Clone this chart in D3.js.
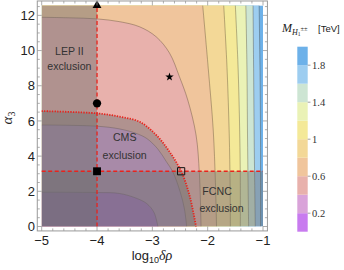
<!DOCTYPE html>
<html>
<head>
<meta charset="utf-8">
<script src="https://cdn.jsdelivr.net/npm/d3@7"></script>
<style>
body { margin: 0; background: #fff; }
</style>
</head>
<body>
<div id="chart"></div>
<script>
// band edges of M_H (TeV) and their colours, bottom to top
var bandEdges = [0, 0.2, 0.4, 0.6, 0.8, 1.0, 1.2, 1.4, 1.6, 1.8, 2.0];
var bandColors = ["#c87bef", "#d9a3d9", "#e8b1ac", "#f0c59c", "#f3d897",
	"#f4e998", "#eaf2b6", "#cde5d3", "#9dcdf0", "#6db1e9"];

var xTicks = [-5, -4, -3, -2, -1];
var yTicks = [0, 2, 4, 6, 8, 10, 12];
var barTicks = [0.2, 0.6, 1, 1.4, 1.8];

// contour lines, [log10 δρ, α3]
var c02 = [[-5, 1.95], [-4, 1.93], [-3.6, 1.88], [-3.3, 1.62], [-3.1, 1.3], [-2.97, 0.8], [-2.9, 0]];
var c04 = [[-5, 5.77], [-4, 5.7], [-3.6, 5.55], [-3.3, 5.3], [-3.1, 5.0], [-2.9, 4.4], [-2.75, 3.7],
	[-2.63, 3.1], [-2.5, 2.0], [-2.42, 1.0], [-2.38, 0]];
var c06 = [[-5, 11.89], [-4.5, 11.86], [-4, 11.8], [-3.59, 11.64], [-3.23, 11.35], [-2.93, 10.78],
	[-2.69, 9.86], [-2.51, 8.51], [-2.36, 7.19], [-2.21, 5.2], [-2.15, 3], [-2.12, 0]];
var c08 = [[-2.09, 12.57], [-1.99, 9.0], [-1.9, 5.5], [-1.86, 2.5], [-1.84, 0]];
var c10 = [[-1.71, 12.57], [-1.65, 9.0], [-1.61, 5.2], [-1.595, 2.5], [-1.59, 0]];
var c12 = [[-1.50, 12.57], [-1.45, 9.0], [-1.42, 5.2], [-1.41, 2.5], [-1.41, 0]];
var c14 = [[-1.31, 12.57], [-1.29, 9.0], [-1.28, 5.2], [-1.27, 2.5], [-1.26, 0]];
var c16 = [[-1.18, 12.57], [-1.17, 9.0], [-1.16, 5.2], [-1.15, 2.5], [-1.14, 0]];
var c18 = [[-1.07, 12.57], [-1.055, 9.0], [-1.045, 5.2], [-1.045, 2.5], [-1.045, 0]];
var contours = [c02, c04, c06, c08, c10, c12, c14, c16, c18];

// exclusion limits
var cmsEdge = [[-5, 6.56], [-4, 6.43], [-3.59, 6.24], [-3.23, 5.95], [-2.93, 5.2], [-2.69, 4.25],
	[-2.48, 3.14], [-2.33, 1.79], [-2.21, 0]];
var lepEdge = -4;
var fcncEdge = 3.14;

// benchmark points
var marks = [
	{ x: -4, y: 4 * Math.PI, shape: "triangle" },
	{ x: -4, y: 7.0, shape: "circle" },
	{ x: -4, y: 3.14, shape: "square" },
	{ x: -2.48, y: 3.14, shape: "open" },
	{ x: -2.69, y: 8.5, shape: "star" }
];

var sans = "Liberation Sans, Arial, sans-serif";
var serif = "Liberation Serif, Times New Roman, serif";

var svg = d3.select("#chart").append("svg")
	.attr("width", 344)
	.attr("height", 270);

var x = d3.scaleLinear().domain([-5, -1]).range([41.7, 263]);
var y = d3.scaleLinear().domain([0, 4 * Math.PI]).range([226.5, 5.4]);
var yTop = 4 * Math.PI;

svg.append("defs").append("clipPath").attr("id", "plot")
	.append("rect")
	.attr("x", x(-5))
	.attr("y", y(yTop))
	.attr("width", x(-1) - x(-5))
	.attr("height", y(0) - y(yTop));

var line = d3.line()
	.x(function (d) { return x(d[0]); })
	.y(function (d) { return y(d[1]); })
	.curve(d3.curveCatmullRom.alpha(0.5));

function closed(pts) {
	return line(pts) + "L" + x(-5) + "," + y(0) + "L" + x(-5) + "," + y(pts[0][1]) + "Z";
}

var g = svg.append("g").attr("clip-path", "url(#plot)");

// top band, then each contour fills the region left/below it
g.append("rect")
	.attr("x", x(-5)).attr("y", y(yTop))
	.attr("width", x(-1) - x(-5)).attr("height", y(0) - y(yTop))
	.attr("fill", bandColors[bandColors.length - 1]);

for (var i = contours.length - 1; i >= 0; i--) {
	g.append("path")
		.attr("d", closed(contours[i]))
		.attr("fill", bandColors[i]);
}

for (var i = 0; i < contours.length; i++) {
	g.append("path")
		.attr("d", line(contours[i]))
		.attr("fill", "none")
		.attr("stroke", "rgba(70,55,40,0.45)")
		.attr("stroke-width", 0.8);
}

// exclusion overlays
var shade = { fill: "#6c6c6c", op: 0.45 };
g.append("rect")
	.attr("x", x(-5)).attr("y", y(yTop))
	.attr("width", x(lepEdge) - x(-5)).attr("height", y(0) - y(yTop))
	.attr("fill", shade.fill).attr("fill-opacity", shade.op);
g.append("path")
	.attr("d", closed(cmsEdge))
	.attr("fill", shade.fill).attr("fill-opacity", shade.op);
g.append("rect")
	.attr("x", x(-5)).attr("y", y(fcncEdge))
	.attr("width", x(-1) - x(-5)).attr("height", y(0) - y(fcncEdge))
	.attr("fill", shade.fill).attr("fill-opacity", shade.op);

// red limit lines
var red = "#e8231c";
svg.append("path")
	.attr("d", line(cmsEdge))
	.attr("fill", "none")
	.attr("stroke", red)
	.attr("stroke-width", 1.8)
	.attr("stroke-dasharray", "1.3,1.3");
svg.append("line")
	.attr("x1", x(lepEdge)).attr("x2", x(lepEdge))
	.attr("y1", y(0)).attr("y2", y(yTop))
	.attr("stroke", red).attr("stroke-width", 1.3)
	.attr("stroke-dasharray", "4,2.5");
svg.append("line")
	.attr("x1", x(-5)).attr("x2", x(-1))
	.attr("y1", y(fcncEdge)).attr("y2", y(fcncEdge))
	.attr("stroke", red).attr("stroke-width", 1.3)
	.attr("stroke-dasharray", "4,2.5");

// markers
var symbols = {
	triangle: d3.symbol().type(d3.symbolTriangle).size(34),
	circle: d3.symbol().type(d3.symbolCircle).size(54),
	square: d3.symbol().type(d3.symbolSquare).size(62),
	open: d3.symbol().type(d3.symbolSquare).size(52),
	star: d3.symbol().type(d3.symbolStar).size(22)
};
marks.forEach(function (m) {
	svg.append("path")
		.attr("d", symbols[m.shape]())
		.attr("transform", "translate(" + x(m.x) + "," + y(m.y) + ")")
		.attr("fill", m.shape == "open" ? "none" : "#000")
		.attr("stroke", m.shape == "open" ? "#111" : "none")
		.attr("stroke-width", 1);
});

// region labels
var notes = [
	{ t: "LEP II", x: -4.5, y: 9.74 },
	{ t: "exclusion", x: -4.5, y: 8.89 },
	{ t: "CMS", x: -3.5, y: 4.86 },
	{ t: "exclusion", x: -3.5, y: 3.84 },
	{ t: "FCNC", x: -1.83, y: 1.79 },
	{ t: "exclusion", x: -1.75, y: 0.8 }
];
notes.forEach(function (n) {
	svg.append("text")
		.attr("x", x(n.x)).attr("y", y(n.y))
		.attr("text-anchor", "middle")
		.attr("font-family", sans)
		.attr("font-size", 10.6)
		.attr("fill", "#333")
		.text(n.t);
});

// frame and ticks
var fx0 = x(-5.08), fx1 = x(-0.92), fy0 = y(yTop + 0.2513), fy1 = y(-0.2513);
svg.append("rect")
	.attr("x", fx0).attr("y", fy0)
	.attr("width", fx1 - fx0).attr("height", fy1 - fy0)
	.attr("fill", "none").attr("stroke", "#999").attr("stroke-width", 1);

var tickColor = "#999";
d3.range(-5, -0.99, 0.2).forEach(function (v) {
	var major = Math.abs(v - Math.round(v)) < 1e-6;
	var len = major ? 4.5 : 2.5;
	svg.append("line").attr("x1", x(v)).attr("x2", x(v)).attr("y1", fy1).attr("y2", fy1 - len)
		.attr("stroke", tickColor).attr("stroke-width", 0.8);
	svg.append("line").attr("x1", x(v)).attr("x2", x(v)).attr("y1", fy0).attr("y2", fy0 + len)
		.attr("stroke", tickColor).attr("stroke-width", 0.8);
});
d3.range(0, 12.51, 0.5).forEach(function (v) {
	var major = Math.abs(v / 2 - Math.round(v / 2)) < 1e-6;
	var len = major ? 4.5 : 2.5;
	svg.append("line").attr("x1", fx0).attr("x2", fx0 + len).attr("y1", y(v)).attr("y2", y(v))
		.attr("stroke", tickColor).attr("stroke-width", 0.8);
	svg.append("line").attr("x1", fx1).attr("x2", fx1 - len).attr("y1", y(v)).attr("y2", y(v))
		.attr("stroke", tickColor).attr("stroke-width", 0.8);
});

xTicks.forEach(function (v) {
	svg.append("text")
		.attr("x", x(v)).attr("y", 245)
		.attr("text-anchor", "middle")
		.attr("font-family", sans).attr("font-size", 13)
		.attr("fill", "#222")
		.text("\u2212" + Math.abs(v));
});
yTicks.forEach(function (v) {
	svg.append("text")
		.attr("x", 35).attr("y", y(v))
		.attr("dy", "0.36em")
		.attr("text-anchor", "end")
		.attr("font-family", sans).attr("font-size", 13)
		.attr("fill", "#222")
		.text(v);
});

// axis titles
var xl = svg.append("text")
	.attr("x", 152).attr("y", 260)
	.attr("text-anchor", "middle")
	.attr("font-family", sans).attr("font-size", 13)
	.attr("fill", "#222");
xl.append("tspan").text("log");
xl.append("tspan").attr("font-size", 9).attr("dy", 3).text("10");
xl.append("tspan").attr("dy", -3).attr("font-family", serif).attr("font-style", "italic").attr("font-size", 14).text("\u03b4\u03c1");

var yl = svg.append("text")
	.attr("transform", "translate(12,118) rotate(-90)")
	.attr("text-anchor", "middle")
	.attr("font-family", serif).attr("font-size", 15)
	.attr("fill", "#222");
yl.append("tspan").attr("font-style", "italic").text("\u03b1");
yl.append("tspan").attr("font-size", 10).attr("dy", 3).text("3");

// colour bar
var cb = d3.scaleLinear().domain([0, 2]).range([231.7, 46.7]);
for (var i = 0; i < bandColors.length; i++) {
	svg.append("rect")
		.attr("x", 297.3)
		.attr("y", cb(bandEdges[i + 1]))
		.attr("width", 10.4)
		.attr("height", cb(bandEdges[i]) - cb(bandEdges[i + 1]))
		.attr("fill", bandColors[i]);
}
barTicks.forEach(function (v) {
	svg.append("line")
		.attr("x1", 307.7).attr("x2", 310.5)
		.attr("y1", cb(v)).attr("y2", cb(v))
		.attr("stroke", "#777").attr("stroke-width", 0.7);
	svg.append("text")
		.attr("x", 312).attr("y", cb(v))
		.attr("dy", "0.35em")
		.attr("font-family", serif).attr("font-size", 10.5)
		.attr("fill", "#333")
		.text(v);
});

var title = svg.append("text")
	.attr("x", 282).attr("y", 32)
	.attr("font-family", serif).attr("font-size", 12)
	.attr("fill", "#222");
title.append("tspan").attr("font-style", "italic").text("M");
title.append("tspan").attr("font-style", "italic").attr("font-size", 8).attr("dy", 2.5).text("H");
title.append("tspan").attr("font-size", 5.5).attr("dy", 1.5).text("1");
title.append("tspan").attr("font-size", 6.5).attr("dy", -5.5).text("\u00b1\u00b1");
svg.append("text")
	.attr("x", 318).attr("y", 32)
	.attr("font-family", sans).attr("font-size", 9.5)
	.attr("fill", "#222")
	.text("[TeV]");
</script>
</body>
</html>
